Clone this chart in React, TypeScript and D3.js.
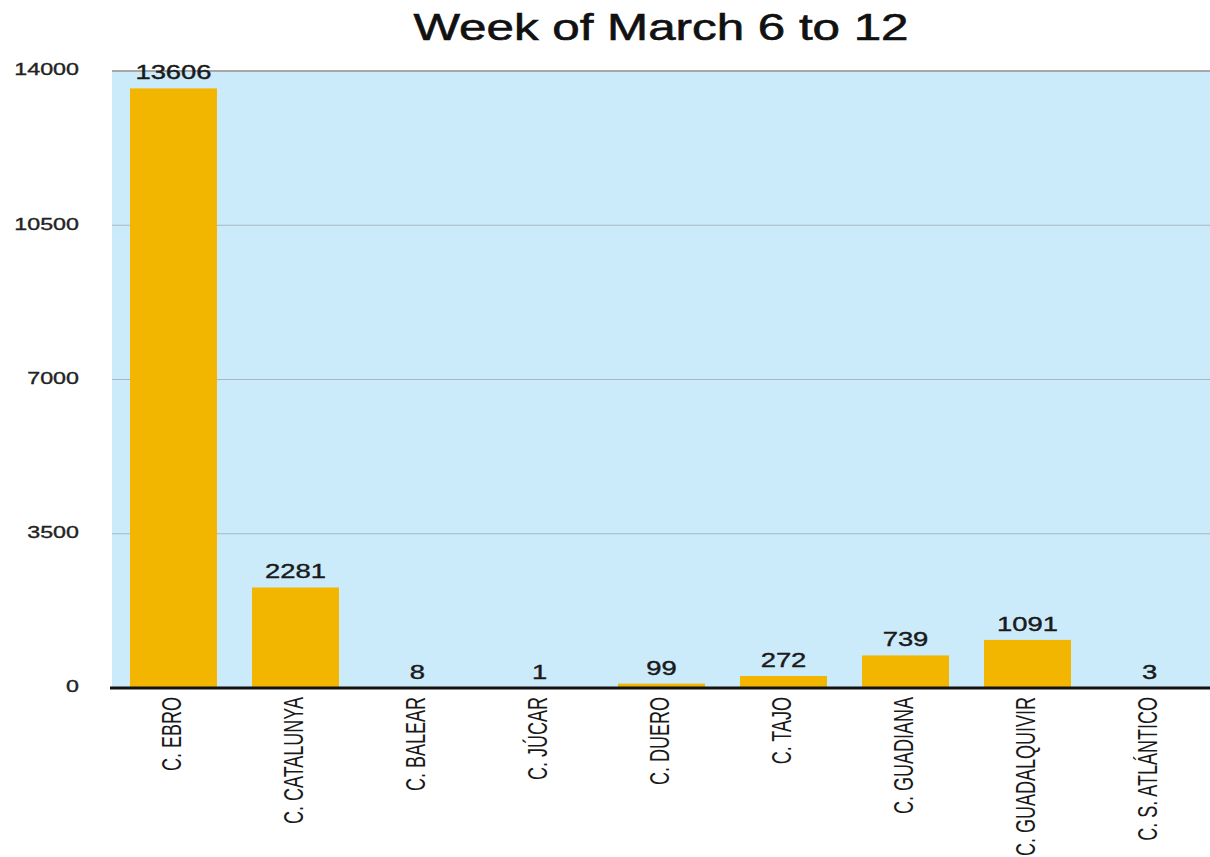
import React from "react";
import * as d3 from "d3";

const categories = [
  "C. EBRO",
  "C. CATALUNYA",
  "C. BALEAR",
  "C. JÚCAR",
  "C. DUERO",
  "C. TAJO",
  "C. GUADIANA",
  "C. GUADALQUIVIR",
  "C. S. ATLÁNTICO",
];
const values = [13606, 2281, 8, 1, 99, 272, 739, 1091, 3];
const yTicks = [0, 3500, 7000, 10500, 14000];
const title = "Week of March 6 to 12";

const W = 1210;
const H = 857;
const plotLeft = 112;
const plotTop = 71;
const plotBottom = 688;
const plotRight = 1211;
const SX = 1.37;

export default function App() {
  const x = d3
    .scaleBand<string>()
    .domain(categories)
    .range([plotLeft, plotRight])
    .paddingInner(0.287)
    .paddingOuter(0.1475);
  const y = d3.scaleLinear().domain([0, 14000]).range([plotBottom, plotTop]);
  const font = "'Liberation Sans', Arial, Helvetica, sans-serif";
  const narrow = "'Liberation Sans Narrow', 'Arial Narrow', 'Liberation Sans', Arial, sans-serif";

  return (
    <svg
      width={W}
      height={H}
      style={{ position: "absolute", left: 0, top: 0, background: "#fff" }}
    >
      <rect
        x={plotLeft}
        y={plotTop}
        width={W - plotLeft}
        height={plotBottom - plotTop}
        fill="#CCEBFA"
      />
      {yTicks
        .filter((t) => t > 0)
        .map((t) => (
          <line
            key={t}
            x1={plotLeft}
            x2={W}
            y1={y(t)}
            y2={y(t)}
            stroke={t === 14000 ? "#A8A8A8" : "#A9B7C2"}
            strokeWidth={t === 14000 ? 2 : 1.2}
          />
        ))}
      {categories.map((c, i) => (
        <rect
          key={c}
          x={x(c)}
          y={y(values[i])}
          width={x.bandwidth()}
          height={plotBottom - y(values[i])}
          fill="#F2B600"
        />
      ))}
      <line x1={plotLeft - 2} x2={W} y1={plotBottom} y2={plotBottom} stroke="#111" strokeWidth={3} />
      {yTicks.map((t) => (
        <text
          key={t}
          transform={`translate(79,${y(t)}) scale(${SX},1)`}
          textAnchor="end"
          dominantBaseline="middle"
          fontFamily={font}
          fontSize={17}
          fill="#222"
          stroke="#222"
          strokeWidth={0.35}
        >
          {t}
        </text>
      ))}
      {categories.map((c, i) => (
        <text
          key={c}
          transform={`translate(${(x(c) as number) + x.bandwidth() / 2},${y(values[i]) - 9}) scale(${SX},1)`}
          textAnchor="middle"
          fontFamily={font}
          fontSize={20}
          fill="#1a1a1a"
          stroke="#1a1a1a"
          strokeWidth={0.4}
        >
          {values[i]}
        </text>
      ))}
      {categories.map((c) => (
        <text
          key={c}
          transform={`translate(${(x(c) as number) + x.bandwidth() / 2},697) scale(1.55,1) rotate(-90)`}
          textAnchor="end"
          dominantBaseline="middle"
          fontFamily={narrow}
          fontSize={18}
          fill="#1a1a1a"
        >
          {c}
        </text>
      ))}
      <text
        transform={`translate(661,40) scale(${SX},1)`}
        textAnchor="middle"
        fontFamily={font}
        fontSize={36}
        fill="#111"
        stroke="#111"
        strokeWidth={0.6}
      >
        {title}
      </text>
    </svg>
  );
}
